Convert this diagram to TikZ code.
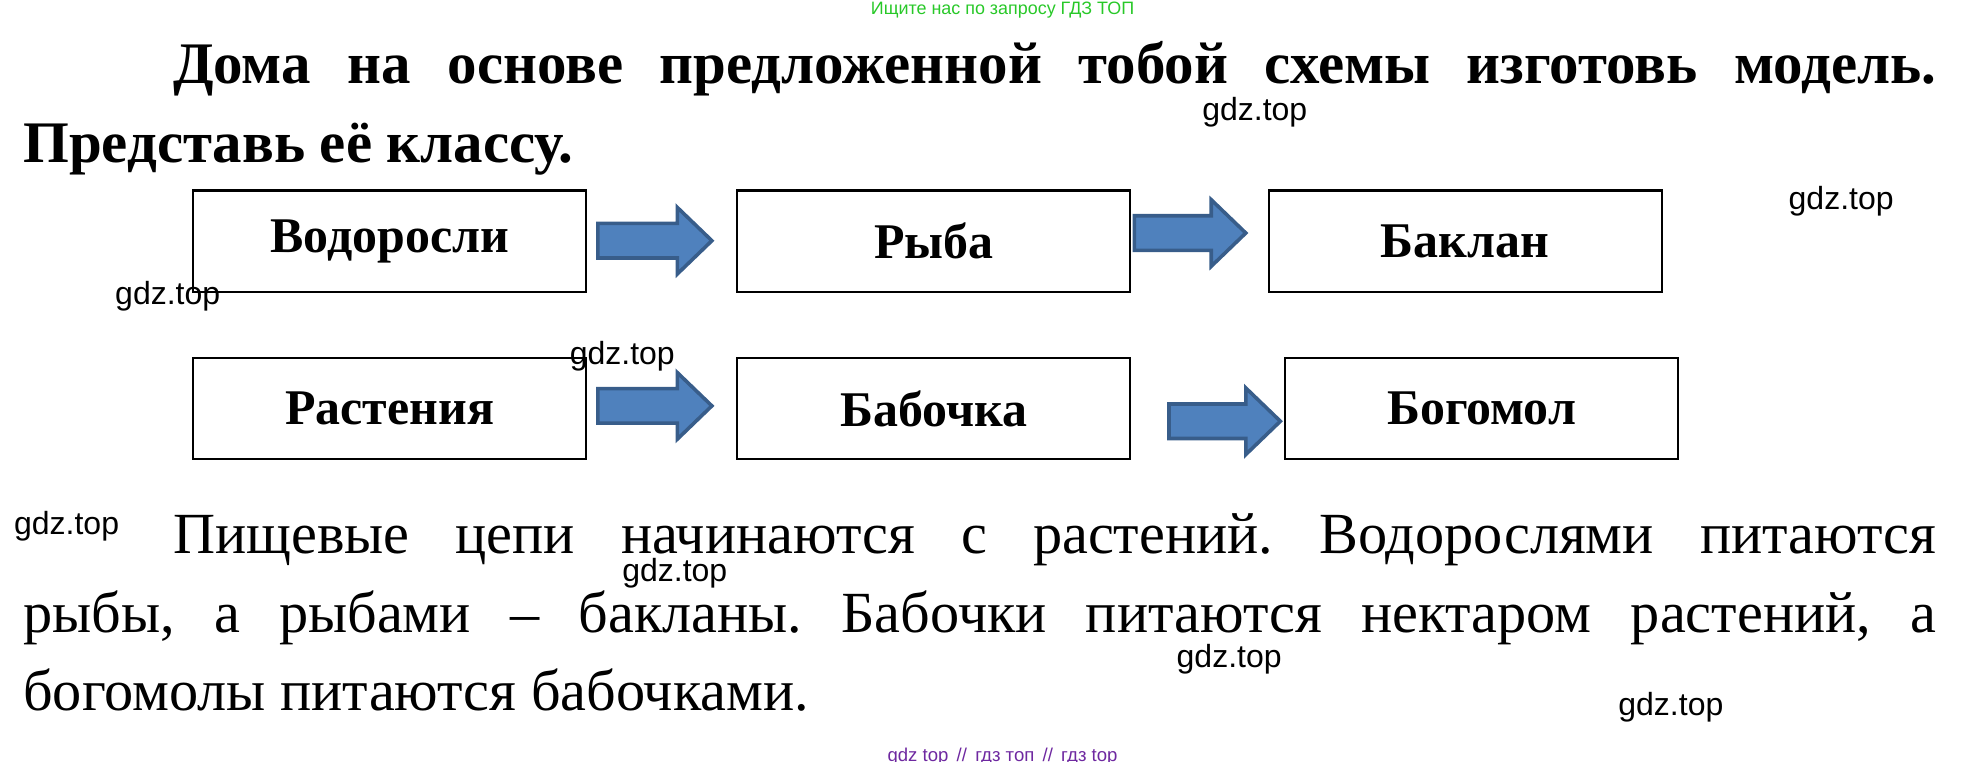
\documentclass[tikz,border=0pt]{standalone}
\usepackage{fontspec}
\setmainfont{Liberation Serif}
\newfontfamily\wsans{Liberation Sans}
\definecolor{arrline}{RGB}{56,93,138}
\definecolor{arrfill}{RGB}{79,129,189}
\definecolor{wmgreen}{RGB}{40,200,40}
\definecolor{wmpurple}{RGB}{110,40,160}
\newcommand{\blockarrow}[3]{% x start, x tip, y centre
  \draw[barrow] (#1,#3-13.5) -- (#2-27,#3-13.5) -- (#2-27,#3-26) -- (#2,#3) -- (#2-27,#3+26) -- (#2-27,#3+13.5) -- (#1,#3+13.5) -- cycle;}
\begin{document}
\begin{tikzpicture}[x=1pt,y=-1pt,
  box/.style={draw,line width=1.6pt,minimum width=307pt,minimum height=79pt,anchor=north west,inner sep=0pt,font=\fontsize{39}{42}\selectfont\bfseries},
  barrow/.style={draw=arrline,fill=arrfill,line width=2.8pt,line join=miter},
  wm/.style={font=\wsans\fontsize{25}{27}\selectfont,inner sep=0pt}]
\useasboundingbox (0,0) rectangle (1548,595);
\node[font=\wsans\fontsize{14}{15}\selectfont,text=wmgreen,inner sep=0pt] (top) at (783,8) {Ищите нас по запросу ГДЗ ТОП};
\node[font=\fontsize{46}{50}\selectfont\bfseries,anchor=base west,inner sep=0pt] (t1) at (135,65) {\hbox to 1377pt{Дома\hfill на\hfill основе\hfill предложенной\hfill тобой\hfill схемы\hfill изготовь\hfill модель.}};
\node[font=\fontsize{46}{50}\selectfont\bfseries,anchor=base west,inner sep=0pt] (t2) at (18,127) {Представь её классу.};
\node[box] (b1) at (150,148) {Водоросли};
\node[box] (b2) at (575,148) {Рыба};
\node[box] (b3) at (990,148) {Баклан};
\node[box] (b4) at (150,279) {Растения};
\node[box] (b5) at (575,279) {Бабочка};
\node[box] (b6) at (1003,279) {Богомол};
\blockarrow{467}{556}{188}
\blockarrow{886}{973}{182}
\blockarrow{467}{556}{317}
\blockarrow{913}{1000}{329}
\node[font=\fontsize{45.5}{49}\selectfont,anchor=base west,inner sep=0pt] (p1) at (135,432) {\hbox to 1377pt{Пищевые\hfill цепи\hfill начинаются\hfill с\hfill растений.\hfill Водорослями\hfill питаются}};
\node[font=\fontsize{45.5}{49}\selectfont,anchor=base west,inner sep=0pt] (p2) at (18,494) {\hbox to 1494pt{рыбы,\hfill а\hfill рыбами\hfill –\hfill бакланы.\hfill Бабочки\hfill питаются\hfill нектаром\hfill растений,\hfill а}};
\node[font=\fontsize{45.5}{49}\selectfont,anchor=base west,inner sep=0pt] (p3) at (18,555) {богомолы питаются бабочками.};
\node[wm] (w1) at (980,88) {gdz.top};
\node[wm] (w2) at (1438,157) {gdz.top};
\node[wm] (w3) at (131,231) {gdz.top};
\node[wm] (w4) at (486,278) {gdz.top};
\node[wm] (w5) at (52,411) {gdz.top};
\node[wm] (w6) at (527,448) {gdz.top};
\node[wm] (w7) at (960,515) {gdz.top};
\node[wm] (w8) at (1305,552) {gdz.top};
\node[font=\wsans\fontsize{14.5}{16}\selectfont,text=wmpurple,inner sep=0pt] (bot) at (783,591) {gdz top \,//\, гдз топ \,//\, гдз top};
\end{tikzpicture}
\end{document}
